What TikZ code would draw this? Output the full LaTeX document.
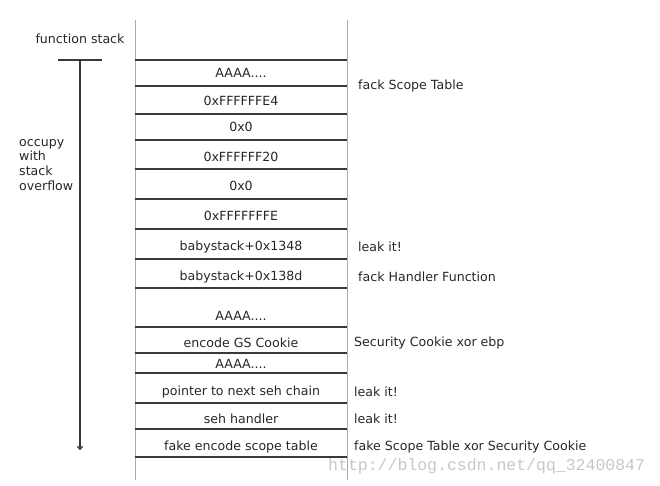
\documentclass[tikz,border=0pt]{standalone}
\usepackage{fontspec}
\setmainfont{DejaVu Sans}
\newfontfamily\markfont{Liberation Mono}
\usetikzlibrary{positioning, arrows.meta}
\definecolor{stackline}{HTML}{3A3A3A}
\definecolor{wallline}{HTML}{9AAEC6}

\begin{document}
\begin{tikzpicture}[x=1pt, y=-1pt,
  cell/.style={font=\fontsize{12.6}{14.7}\selectfont, text=black!85, inner sep=0pt},
  note/.style={cell, anchor=west}]
\useasboundingbox (0,0) rectangle (660,486);

% --- stack walls ---
\draw[wallline, line width=1pt] (135,20) -- (135,480);
\draw[wallline, line width=1pt] (347,20) -- (347,480);

% --- slot borders ---
\foreach \y in {60,86,114,140,169,199,229,259,288,327,353,373,403,429,457}
  \draw[stackline, line width=1.4pt] (135,\y) -- (347,\y);

% --- slot contents ---
\node[cell] (fillTop)   at (241,73)  {AAAA....};
\node[cell] (scopeA)    at (241,101) {0xFFFFFFE4};
\node[cell] (scopeB)    at (241,127) {0x0};
\node[cell] (scopeC)    at (241,157) {0xFFFFFF20};
\node[cell] (scopeD)    at (241,186) {0x0};
\node[cell] (scopeE)    at (241,216) {0xFFFFFFFE};
\node[cell] (leakBase)  at (241,247) {babystack+0x1348};
\node[cell] (handler)   at (241,277) {babystack+0x138d};
\node[cell] (fillMid)   at (241,316) {AAAA....};
\node[cell] (gsCookie)  at (241,343) {encode GS Cookie};
\node[cell] (fillLow)   at (241,364) {AAAA....};
\node[cell] (nextSeh)   at (241,392) {pointer to next seh chain};
\node[cell] (sehHandle) at (241,419) {seh handler};
\node[cell] (encScope)  at (241,447) {fake encode scope table};

% --- notes on the right ---
\node[note] (noteScope)   at (358,86)  {fack Scope Table};
\node[note] (noteLeakA)   at (358,247) {leak it!};
\node[note] (noteHandler) at (358,277) {fack Handler Function};
\node[note] (noteCookie)  at (354,343) {Security Cookie xor ebp};
\node[note] (noteLeakB)   at (354,392) {leak it!};
\node[note] (noteLeakC)   at (354,419) {leak it!};
\node[note] (noteFake)    at (354,447) {fake Scope Table xor Security Cookie};

% --- overflow direction ---
\node[cell] (title) at (80,39) {function stack};
\coordinate (barL) at (58,60);
\coordinate (barR) at (102,60);
\coordinate (barM) at (80,60);
\coordinate (arrowEnd) at (80,450);
\draw[stackline, line width=1.4pt] (barL) -- (barR);
\draw[stackline, line width=1.2pt, -{To[length=4pt,width=6pt]}] (barM) -- (arrowEnd);
\node[cell, anchor=north west, align=left] (occupy) at (19,139)
  {occupy\\with\\stack\\overflow};

% --- watermark ---
\node[anchor=west, inner sep=0pt, text=black!22, font=\markfont\fontsize{16.5}{18}\selectfont]
  (mark) at (328,466) {http://blog.csdn.net/qq\_32400847};
\end{tikzpicture}
\end{document}
